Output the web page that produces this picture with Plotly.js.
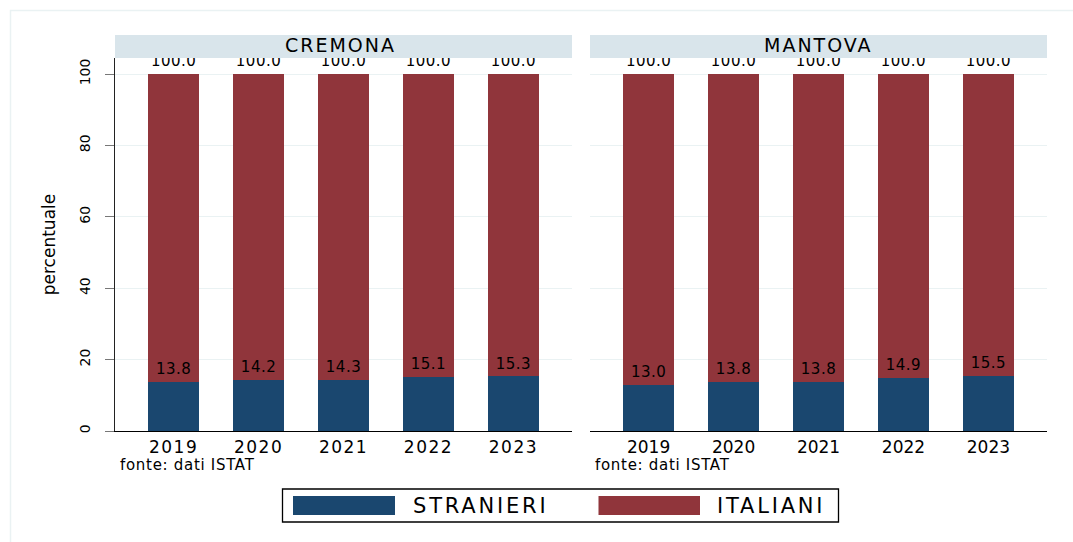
<!DOCTYPE html>
<html>
<head>
<meta charset="utf-8">
<script src="https://cdn.plot.ly/plotly-3.0.1.min.js"></script>
<style>
  html, body { margin: 0; padding: 0; background: #ffffff; }
  #chart { width: 1073px; height: 542px; }
  .xtick text { letter-spacing: 1.5px; }
  .textpoint text { letter-spacing: 0.5px; }
</style>
</head>
<body>
<div id="chart"></div>
<script>
// ---- data ----
var anni = ['2019', '2020', '2021', '2022', '2023'];
var province = ['CREMONA', 'MANTOVA'];
var stranieriCremona = [13.8, 14.2, 14.3, 15.1, 15.3];
var italianiCremona  = [86.2, 85.8, 85.7, 84.9, 84.7];
var stranieriMantova = [13.0, 13.8, 13.8, 14.9, 15.5];
var italianiMantova  = [87.0, 86.2, 86.2, 85.1, 84.5];
var totaleCremona = [100.0, 100.0, 100.0, 100.0, 100.0];
var totaleMantova = [100.0, 100.0, 100.0, 100.0, 100.0];
var yTicks = [0, 20, 40, 60, 80, 100];
var nomiSerie = ['STRANIERI', 'ITALIANI'];
var fonte = 'fonte: dati ISTAT';
var titoloY = 'percentuale';

// ---- style ----
var W = 1073, H = 542;
var BLUE = '#1a476f', RED = '#90353b';
var GRID = '#eaf2f3', STRIP = '#d9e5eb';
var FONT = 'DejaVu Sans, Liberation Sans, Arial, sans-serif';
function px(x) { return x / W; }
function py(y) { return 1 - y / H; }
function fmt(v) { return v.toFixed(1); }

var panels = [
  { name: province[0], s: stranieriCremona, i: italianiCremona, t: totaleCremona, xa: 'x', ya: 'y' },
  { name: province[1], s: stranieriMantova, i: italianiMantova, t: totaleMantova, xa: 'x2', ya: 'y2' }
];

var data = [];
panels.forEach(function (p) {
  data.push({
    type: 'bar', name: nomiSerie[0], x: anni, y: p.s, xaxis: p.xa, yaxis: p.ya,
    width: 0.6, marker: { color: BLUE, line: { width: 0 } }, showlegend: false, hoverinfo: 'y'
  });
  data.push({
    type: 'bar', name: nomiSerie[1], x: anni, y: p.i, xaxis: p.xa, yaxis: p.ya,
    width: 0.6, marker: { color: RED, line: { width: 0 } }, showlegend: false, hoverinfo: 'y'
  });
  data.push({
    type: 'scatter', mode: 'markers+text', x: anni, y: p.s, xaxis: p.xa, yaxis: p.ya,
    text: p.s.map(fmt), textposition: 'top center',
    textfont: { family: FONT, size: 15, color: '#000000' },
    marker: { size: 5, opacity: 0 }, showlegend: false, hoverinfo: 'skip', cliponaxis: true
  });
  data.push({
    type: 'scatter', mode: 'markers+text', x: anni, y: p.t, xaxis: p.xa, yaxis: p.ya,
    text: p.t.map(fmt), textposition: 'top center',
    textfont: { family: FONT, size: 15, color: '#000000' },
    marker: { size: 5, opacity: 0 }, showlegend: false, hoverinfo: 'skip', cliponaxis: true
  });
});

var yDomain = [py(431), py(58)];
var xBase = {
  type: 'category', range: [-0.69, 4.69], showline: true, linecolor: '#000000', linewidth: 1.3,
  ticks: '', showgrid: false, zeroline: false, tickangle: 0, fixedrange: true,
  tickfont: { family: FONT, size: 17, color: '#000000' }, ticklabelstandoff: 0
};
var layout = {
  width: W, height: H,
  margin: { l: 0, r: 0, t: 0, b: 0 },
  paper_bgcolor: '#ffffff', plot_bgcolor: '#ffffff',
  barmode: 'stack', showlegend: false,
  font: { family: FONT, color: '#000000' },
  xaxis: Object.assign({}, xBase, { domain: [px(115), px(572)], anchor: 'y' }),
  xaxis2: Object.assign({}, xBase, { domain: [px(590), px(1047)], anchor: 'y2' }),
  yaxis: {
    domain: yDomain, range: [0, 104.5], anchor: 'x', fixedrange: true,
    showline: true, linecolor: '#222222', linewidth: 1.2,
    ticks: 'outside', ticklen: 9, tickwidth: 1, tickcolor: '#777777',
    tickmode: 'array', tickvals: yTicks, ticktext: yTicks.map(String), tickangle: -90,
    tickfont: { family: FONT, size: 14, color: '#000000' }, ticklabelstandoff: 9,
    showgrid: true, gridcolor: GRID, gridwidth: 1, zeroline: false,
    title: { text: titoloY, font: { family: FONT, size: 17, color: '#000000' }, standoff: 17 }
  },
  yaxis2: {
    domain: yDomain, range: [0, 104.5], anchor: 'x2', fixedrange: true,
    showline: false, ticks: '', showticklabels: false,
    tickmode: 'array', tickvals: yTicks,
    showgrid: true, gridcolor: GRID, gridwidth: 1, zeroline: false
  },
  shapes: [
    { type: 'rect', xref: 'paper', yref: 'paper', x0: px(10.5), x1: 1.05, y0: -0.05, y1: py(10.5),
      line: { color: GRID, width: 1.5 }, fillcolor: 'rgba(0,0,0,0)', layer: 'below' },
    { type: 'rect', xref: 'paper', yref: 'paper', x0: px(115), x1: px(572), y0: py(58), y1: py(35),
      line: { width: 0 }, fillcolor: STRIP, layer: 'above' },
    { type: 'rect', xref: 'paper', yref: 'paper', x0: px(590), x1: px(1047), y0: py(58), y1: py(35),
      line: { width: 0 }, fillcolor: STRIP, layer: 'above' },
    { type: 'rect', xref: 'paper', yref: 'paper', x0: px(282.5), x1: px(838.5), y0: py(522), y1: py(489),
      line: { color: '#000000', width: 1.3 }, fillcolor: '#ffffff', layer: 'above' },
    { type: 'rect', xref: 'paper', yref: 'paper', x0: px(293), x1: px(395), y0: py(515), y1: py(496),
      line: { width: 0 }, fillcolor: BLUE, layer: 'above' },
    { type: 'rect', xref: 'paper', yref: 'paper', x0: px(598.5), x1: px(700), y0: py(515), y1: py(496),
      line: { width: 0 }, fillcolor: RED, layer: 'above' }
  ],
  annotations: [
    { xref: 'paper', yref: 'paper', x: px(343.5), y: py(45), xanchor: 'center', yanchor: 'middle', xshift: -3,
      text: '<span style="letter-spacing:2px">' + panels[0].name + '</span>', showarrow: false,
      font: { family: FONT, size: 19, color: '#000000' } },
    { xref: 'paper', yref: 'paper', x: px(818.5), y: py(45), xanchor: 'center', yanchor: 'middle',
      text: '<span style="letter-spacing:2px">' + panels[1].name + '</span>', showarrow: false,
      font: { family: FONT, size: 19, color: '#000000' } },
    { xref: 'paper', yref: 'paper', x: px(118), y: py(465), xanchor: 'left', yanchor: 'middle',
      text: '<span style="letter-spacing:0.7px">' + fonte + '</span>', showarrow: false,
      font: { family: FONT, size: 15, color: '#000000' } },
    { xref: 'paper', yref: 'paper', x: px(593), y: py(465), xanchor: 'left', yanchor: 'middle',
      text: '<span style="letter-spacing:0.7px">' + fonte + '</span>', showarrow: false,
      font: { family: FONT, size: 15, color: '#000000' } },
    { xref: 'paper', yref: 'paper', x: px(411), y: py(506), xanchor: 'left', yanchor: 'middle',
      text: '<span style="letter-spacing:2.8px">' + nomiSerie[0] + '</span>', showarrow: false,
      font: { family: FONT, size: 21, color: '#000000' } },
    { xref: 'paper', yref: 'paper', x: px(715), y: py(506), xanchor: 'left', yanchor: 'middle',
      text: '<span style="letter-spacing:2.8px">' + nomiSerie[1] + '</span>', showarrow: false,
      font: { family: FONT, size: 21, color: '#000000' } }
  ]
};

Plotly.newPlot('chart', data, layout, { displayModeBar: false, staticPlot: true });
</script>
</body>
</html>
